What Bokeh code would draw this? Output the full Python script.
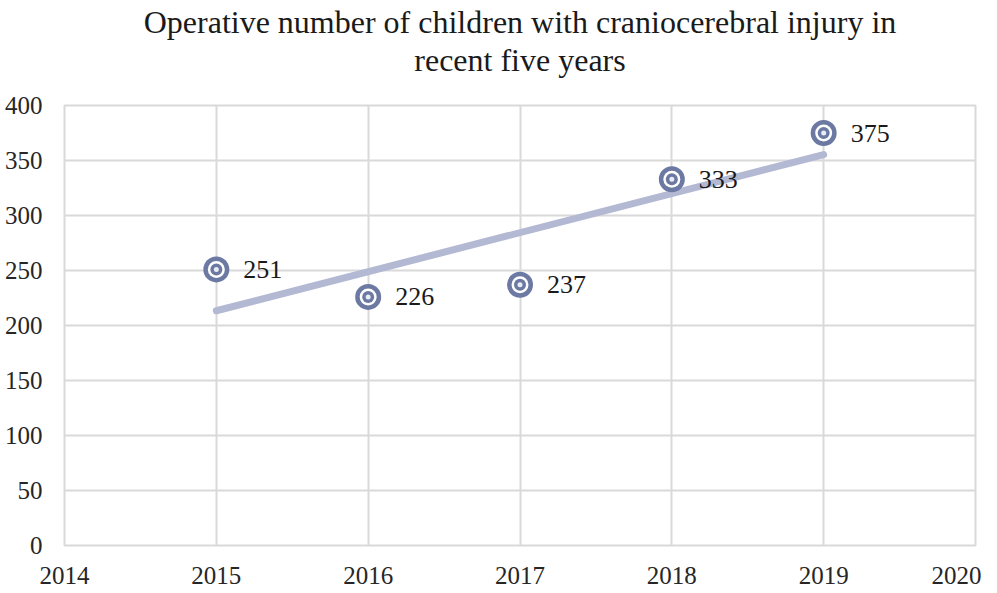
import numpy as np
from bokeh.plotting import figure
from bokeh.models import ColumnDataSource, Title, Range1d, SingleIntervalTicker, LabelSet
from bokeh.core.properties import value
from bokeh.embed import file_html
from bokeh.resources import INLINE

years = [2015, 2016, 2017, 2018, 2019]
counts = [251, 226, 237, 333, 375]
labels = ["251", "226", "237", "333", "375"]
title_line1 = "Operative number of children with craniocerebral injury in"
title_line2 = "recent five years"

FONT = "Liberation Serif"
MARK = "#6b79a3"
GRID = "#d9d9d9"

src = ColumnDataSource(dict(x=years, y=counts, lab=labels))

p = figure(width=981, height=588, output_backend="svg", toolbar_location=None,
           x_range=Range1d(2014, 2020), y_range=Range1d(0, 400),
           min_border_left=64, min_border_right=6, min_border_top=105, min_border_bottom=43)
p.title = None

spacer = Title(text=" ", align="center", text_font=FONT, text_font_size="1px", standoff=25)
t2 = Title(text=title_line2, align="center", text_font=FONT, text_font_size="32px",
           text_font_style="normal", text_color="#1a1a1a", standoff=0)
t1 = Title(text=title_line1, align="center", text_font=FONT, text_font_size="32px",
           text_font_style="normal", text_color="#1a1a1a", standoff=0)
p.add_layout(spacer, "above")
p.add_layout(t2, "above")
p.add_layout(t1, "above")

p.background_fill_color = "white"
p.outline_line_color = GRID
p.outline_line_width = 2

for ax in (p.xaxis[0], p.yaxis[0]):
    ax.axis_line_color = None
    ax.major_tick_line_color = None
    ax.minor_tick_line_color = None
    ax.major_label_text_font = FONT
    ax.major_label_text_font_size = "25px"
    ax.major_label_text_color = "#262626"

p.xaxis.ticker = SingleIntervalTicker(interval=1)
p.yaxis.ticker = SingleIntervalTicker(interval=50)
p.xaxis.major_label_standoff = 15
p.yaxis.major_label_standoff = 16

p.xgrid.ticker = SingleIntervalTicker(interval=1)
p.ygrid.ticker = SingleIntervalTicker(interval=50)
for g in (p.xgrid[0], p.ygrid[0]):
    g.grid_line_color = GRID
    g.grid_line_width = 2

# linear trendline from the data
k, b = np.polyfit(years, counts, 1)
tx = [years[0], years[-1]]
ty = [k * x + b for x in tx]
p.line(tx, ty, line_color="#b3b8d3", line_width=7, line_cap="round")

# markers: concentric rings
p.scatter("x", "y", source=src, size=26, fill_color=MARK, line_color=None)
p.scatter("x", "y", source=src, size=17, fill_color="white", line_color=None)
p.scatter("x", "y", source=src, size=12, fill_color=MARK, line_color=None)
p.scatter("x", "y", source=src, size=5, fill_color="#e8ecf5", line_color=None)

lbl = LabelSet(x="x", y="y", text="lab", source=src, x_offset=27, y_offset=0,
               text_font=value(FONT), text_font_size="26px", text_color="#1a1a1a",
               text_align="left", text_baseline="middle")
p.add_layout(lbl)

open("out.html", "w").write(file_html(p, INLINE))
